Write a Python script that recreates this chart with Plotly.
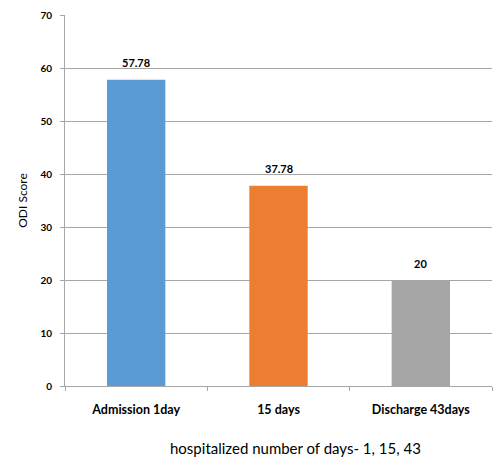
import plotly.graph_objects as go

categories = ["Admission 1day", "15 days", "Discharge 43days"]
odi_scores = [57.78, 37.78, 20]
bar_colors = ["#5B9BD5", "#ED7D31", "#A5A5A5"]
value_labels = ["57.78", "37.78", "20"]
x_title = "hospitalized number of days- 1, 15, 43"

FONT = "Lato, 'Open Sans', sans-serif"

fig = go.Figure(
    go.Bar(
        x=categories,
        y=odi_scores,
        marker=dict(color=bar_colors, line=dict(width=0)),
        hoverinfo="x+y",
    )
)

# value labels sit a fixed distance above each bar
for cat, val, lab in zip(categories, odi_scores, value_labels):
    fig.add_annotation(
        x=cat, y=val, text=lab, showarrow=False,
        yanchor="middle", yshift=17,
        font=dict(family=FONT, size=11, color="#000000", weight="bold"),
    )

# horizontal axis caption, set slightly right of the plot centre
fig.add_annotation(
    xref="paper", yref="paper", x=0.54, y=-0.167,
    xanchor="center", yanchor="middle", showarrow=False,
    text=x_title, font=dict(family=FONT, size=15, color="#000000"),
)

fig.update_layout(
    width=493,
    height=461,
    margin=dict(l=65, r=1, t=15, b=75),
    paper_bgcolor="white",
    plot_bgcolor="white",
    bargap=0.59,
    showlegend=False,
    font=dict(family=FONT, color="#000000"),
)

fig.update_yaxes(
    range=[0, 70],
    dtick=10,
    showgrid=True,
    gridcolor="#A6A6A6",
    gridwidth=1,
    zeroline=False,
    showline=True,
    linecolor="#A6A6A6",
    linewidth=1,
    ticks="outside",
    ticklen=4,
    tickcolor="#A6A6A6",
    ticklabelstandoff=6,
    tickfont=dict(family=FONT, size=10, weight="bold"),
    title=dict(text="ODI Score", font=dict(family=FONT, size=12), standoff=10),
)

fig.update_xaxes(
    showline=True,
    linecolor="#A6A6A6",
    linewidth=1,
    ticks="outside",
    tickson="boundaries",
    ticklen=4,
    tickcolor="#A6A6A6",
    ticklabelstandoff=12,
    tickfont=dict(family=FONT, size=12.5, weight="bold"),
)

fig.write_html("out.html")
